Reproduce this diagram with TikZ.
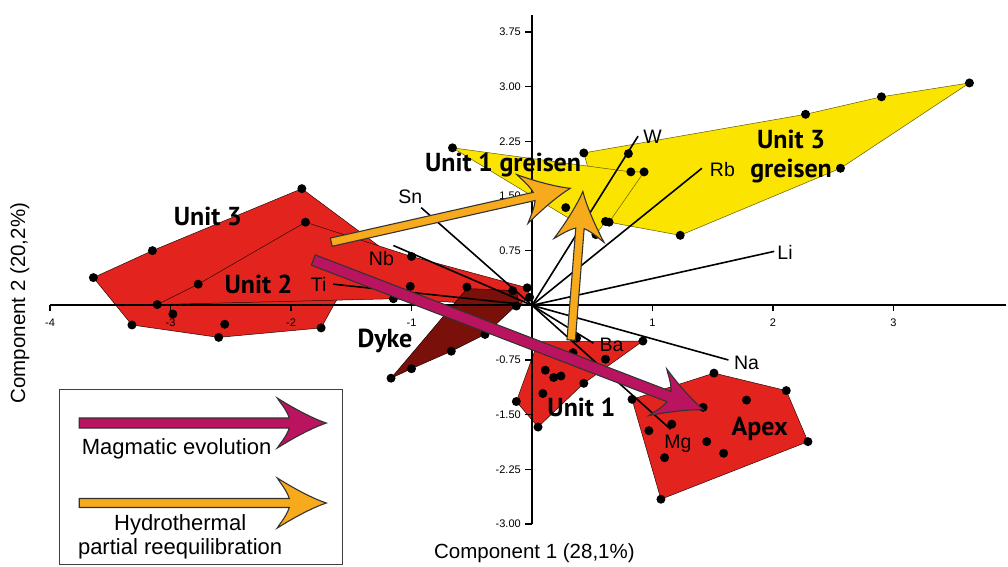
\documentclass[tikz,border=0pt]{standalone}
\usepackage{fontspec}
\setmainfont{Liberation Sans}
\newfontfamily\unitfont{PT Sans}
\usepackage{tikz}

\definecolor{unitred}{RGB}{227,36,30}
\definecolor{dykered}{RGB}{122,16,10}
\definecolor{greisen}{RGB}{250,228,0}
\definecolor{magma}{RGB}{186,20,96}
\definecolor{hydro}{RGB}{246,170,28}

\tikzset{
  unit/.style={fill=unitred, draw=black!80!unitred, line width=0.5pt},
  dyke/.style={fill=dykered, draw=black!80!dykered, line width=0.5pt},
  grs/.style={fill=greisen, draw=black!60!greisen, line width=0.5pt},
  loading/.style={line width=1.6pt},
  elem/.style={font=\fontsize{19.5}{21}\selectfont, inner sep=0pt},
  unitlab/.style={font=\unitfont\bfseries\fontsize{26}{28.4}\selectfont, inner sep=0pt, align=center},
  ticklab/.style={font=\fontsize{11}{12}\selectfont, inner sep=0pt},
  axislab/.style={font=\fontsize{20.5}{22}\selectfont, inner sep=0pt},
  leglab/.style={font=\fontsize{22}{24}\selectfont, inner sep=0pt, align=center}
}

% fat arrow: start, angle, length (pt), half width (pt), colour
\newcommand\fatarrow[5]{%
  \begin{scope}[shift={#1}, rotate=#2, x=1pt, y=1pt]
    \filldraw[fill=#5, draw=black!80, line width=1.1pt, line join=miter]
      (0,#4) -- ({#3-37},#4)
      .. controls ({#3-40},{#4+9}) and ({#3-46},20) .. ({#3-49},25)
      .. controls ({#3-30},13) and ({#3-12},4) .. (#3,0)
      .. controls ({#3-12},-4) and ({#3-30},-13) .. ({#3-49},-25)
      .. controls ({#3-46},-20) and ({#3-40},{-#4-9}) .. ({#3-37},-#4)
      -- (0,-#4) -- cycle;
  \end{scope}}

\begin{document}
\begin{tikzpicture}[x=120.5pt, y=72.9pt, line width=1pt]
    \useasboundingbox[fill=white] (-4.415,-3.588) rectangle (3.950,4.188);

    % draw unit fields
    \filldraw[unit] (-1.91,1.60) -- (-3.15,0.75) -- (-3.64,0.38) -- (-3.32,-0.27)
      -- (-2.60,-0.44) -- (-1.75,-0.31) -- (-1.63,0.05) -- (-1.26,0.80) -- cycle;
    \filldraw[unit] (-3.11,0.01) -- (-2.77,0.29) -- (-1.88,1.14) -- (-1.00,0.67)
      -- (-0.04,0.24) -- (-0.02,0.11) -- (-0.13,-0.01) -- (-1.15,0.09) -- cycle;
    \filldraw[dyke] (-1.17,-1.00) -- (-0.54,0.23) -- (-0.13,0.20) -- (-0.11,0.03)
      -- (-0.39,-0.40) -- (-0.67,-0.63) -- (-1.00,-0.87) -- cycle;
    \filldraw[unit] (0.05,-0.50) -- (0.92,-0.49) -- (0.43,-1.07) -- (0.05,-1.67) -- (-0.13,-1.32) -- cycle;
    \filldraw[unit] (0.83,-1.29) -- (1.51,-0.93) -- (2.11,-1.17) -- (2.29,-1.87) -- (1.07,-2.66) -- cycle;

    % draw greisen fields
    \filldraw[grs] (0.43,2.09) -- (2.27,2.62) -- (2.90,2.86) -- (3.63,3.05) -- (2.56,1.88)
      -- (1.23,0.96) -- (0.64,1.14) -- (0.46,1.91) -- cycle;
    \filldraw[grs] (-0.66,2.16) -- (0.82,1.83) -- (0.93,1.83) -- (0.64,1.14) -- (0.61,1.15) -- (0.53,0.97) -- cycle;

    % draw axes and ticks
    \draw[line width=2pt] (-4,0) -- (3.93,0);
    \draw[line width=2pt] (0,-3) -- (0,3.98);
    \foreach \t in {-4,-3,-2,-1,1,2,3} {
      \draw[line width=1.5pt] (\t,0) -- ++(0,-6pt);
      \node[ticklab] at ([yshift=-17.5pt]\t,0) {\t};
    }
    \foreach \t/\lab in {3.75/3.75, 3/3.00, 2.25/2.25, 1.5/1.50, 0.75/0.75,
                         -0.75/-0.75, -1.5/-1.50, -2.25/-2.25, -3/-3.00} {
      \draw[line width=1.5pt] (0,\t) -- ++(-7pt,0) node[ticklab, anchor=east, xshift=-3.5pt] {\lab};
    }

    % draw loadings
    \coordinate (O) at (0,0);
    \foreach \el/\x/\y in {Sn/-0.92/1.34, Nb/-1.15/0.82, Ti/-1.65/0.29, W/0.88/2.32, Rb/1.41/1.88,
                           Li/2.01/0.74, Na/1.63/-0.75, Ba/0.51/-0.52, Mg/1.15/-1.70}
      \draw[loading] (O) -- (\x,\y) coordinate (\el);

    % draw samples
    \foreach \p in {(-1.91,1.60), (-1.88,1.14), (-3.15,0.75), (-3.64,0.38), (-2.77,0.29), (-3.11,0.01),
                    (-2.98,-0.12), (-3.32,-0.27), (-2.55,-0.26), (-2.60,-0.44), (-1.75,-0.31),
                    (-1.00,0.67), (-1.01,0.26), (-1.15,0.09), (-0.54,0.25), (-0.16,0.20),
                    (-0.04,0.24), (-0.02,0.11), (-0.13,-0.01),
                    (-0.39,-0.40), (-0.67,-0.63), (-1.00,-0.87), (-1.17,-1.00),
                    (-0.66,2.16), (0.43,2.09), (0.80,2.08), (0.82,1.83), (0.93,1.83), (0.28,1.34),
                    (0.61,1.15), (0.64,1.14), (0.53,0.97), (1.23,0.96), (2.56,1.88), (3.63,3.05),
                    (2.90,2.86), (2.27,2.62),
                    (0.37,-0.45), (0.34,-0.65), (0.61,-0.74), (0.11,-0.89), (0.18,-0.99), (0.24,-0.97),
                    (0.43,-1.07), (0.09,-1.21), (-0.13,-1.32), (0.05,-1.67), (0.92,-0.49),
                    (0.83,-1.29), (1.51,-0.93), (2.11,-1.17), (2.29,-1.87), (1.07,-2.66), (1.78,-1.30),
                    (1.42,-1.40), (1.16,-1.63), (0.97,-1.72), (1.45,-1.87), (1.59,-2.03), (1.10,-2.09)}
      \fill \p circle (4.5pt);

    % element labels
    \foreach \el/\x/\y/\anc in {Sn/-1.01/1.49/center, Nb/-1.25/0.64/center, Ti/-1.77/0.29/center,
                                W/1.00/2.31/center, Rb/1.58/1.86/center, Li/2.10/0.72/center,
                                Na/1.78/-0.79/center, Ba/0.66/-0.54/center, Mg/1.21/-1.97/base}
      \node[elem, anchor=\anc] (\el-lab) at (\x,\y) {\el};

    % arrows
    \fatarrow{(-1.815,0.621)}{-21.0}{418}{5.5}{magma}
    \fatarrow{(-1.666,0.866)}{12.7}{245}{4.2}{hydro}
    \fatarrow{(0.325,-0.476)}{85.5}{149}{4.2}{hydro}

    % unit labels
    \node[unitlab, anchor=base] (unit3-lab) at (-2.69,1.09) {Unit 3};
    \node[unitlab, anchor=base] (unit2-lab) at (-2.27,0.16) {Unit 2};
    \node[unitlab, anchor=base] (grs1-lab) at (-0.24,1.83) {Unit 1 greisen};
    \node[unitlab] (grs3-lab) at (2.15,2.04) {Unit 3\\greisen};
    \node[unitlab, anchor=base] (dyke-lab) at (-1.22,-0.58) {Dyke};
    \node[unitlab, anchor=base] (unit1-lab) at (0.41,-1.53) {Unit 1};
    \node[unitlab, anchor=base] (apex-lab) at (1.89,-1.78) {Apex};

    % axis titles
    \node[axislab] (xlab) at (0.02,-3.40) {Component 1 (28,1\%)};
    \node[axislab, rotate=90] (ylab) at (-4.25,0.03) {Component 2 (20,2\%)};

    % legend
    \draw[line width=1.2pt, draw=black!75] (-3.92,-1.16) rectangle (-1.57,-3.56);
    \fatarrow{(-3.757,-1.615)}{0}{247}{5}{magma}
    \fatarrow{(-3.757,-2.712)}{0}{247}{4.5}{hydro}
    \node[leglab, anchor=base] (magma-lab) at (-2.95,-2.05) {Magmatic evolution};
    \node[leglab] (hydro-lab) at (-2.92,-3.18) {Hydrothermal\\partial reequilibration};

\end{tikzpicture}
\end{document}
